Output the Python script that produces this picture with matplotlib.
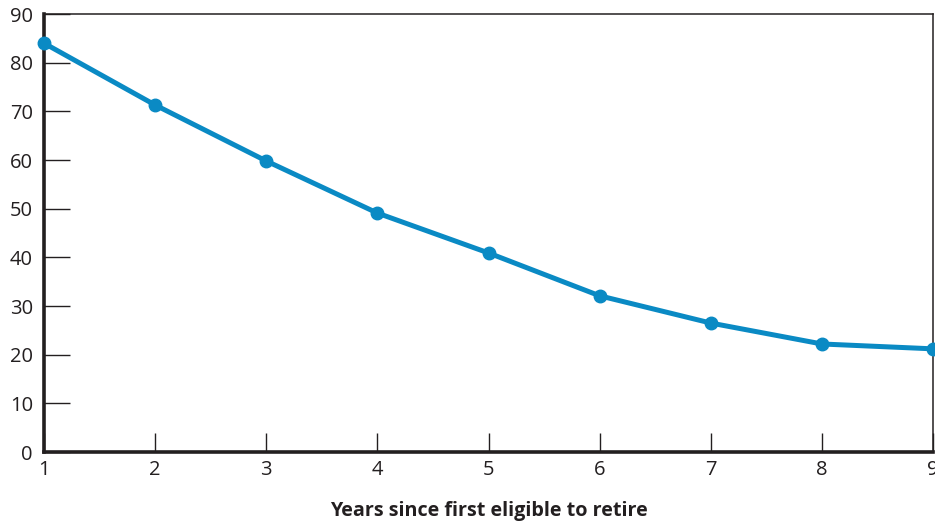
import matplotlib.pyplot as plt

plt.rcParams['font.family'] = ['Open Sans', 'DejaVu Sans']

# Data
years = [1, 2, 3, 4, 5, 6, 7, 8, 9]
values = [84.0, 71.3, 59.8, 49.1, 40.9, 32.1, 26.5, 22.2, 21.2]
y_ticks = [0, 10, 20, 30, 40, 50, 60, 70, 80, 90]

LINE_COLOR = '#0a8ac4'
DARK = '#231f20'

fig = plt.figure(figsize=(9.35, 5.25), dpi=100)
ax = fig.add_axes([0.0471, 0.139, 0.9508, 0.8343])

ax.plot(years, values, color=LINE_COLOR, linewidth=3.6, marker='o',
        markersize=9, clip_on=False, zorder=5)

ax.set_xlim(1, 9)
ax.set_ylim(0, 90)
ax.set_xticks(years)
ax.set_yticks(y_ticks)

ax.tick_params(axis='y', direction='in', length=19, width=1.0, color=DARK,
               labelsize=14.5, labelcolor=DARK, pad=8)
ax.tick_params(axis='x', direction='in', length=14, width=1.0, color=DARK,
               labelsize=14.5, labelcolor=DARK, pad=6)

for side in ['left', 'bottom']:
    ax.spines[side].set_linewidth(2.6)
    ax.spines[side].set_color(DARK)
for side in ['top', 'right']:
    ax.spines[side].set_linewidth(1.1)
    ax.spines[side].set_color(DARK)

ax.set_xlabel('Years since first eligible to retire', fontsize=14.2,
              fontweight='bold', color=DARK, labelpad=15)

fig.savefig('out.png', dpi=100)
